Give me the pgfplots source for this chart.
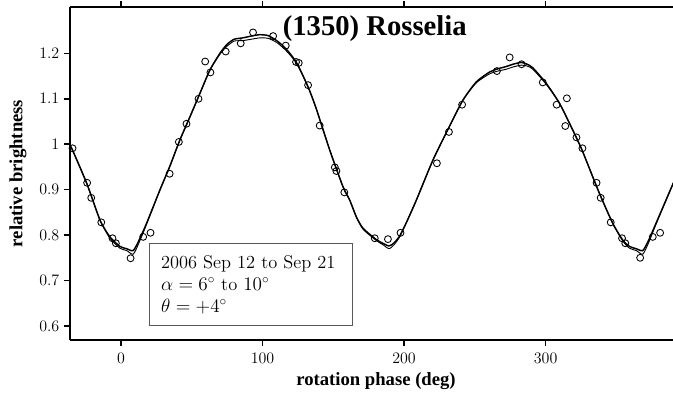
\documentclass[border=0pt]{standalone}
\usepackage{pgfplots}
\pgfplotsset{compat=1.18}
\usepackage{fontspec}
\newfontfamily\tnr{Liberation Serif}
\begin{document}
\begin{tikzpicture}
\begin{axis}[
  name=ax,
  scale only axis,
  width=452.25pt, height=249.75pt,
  xmin=-36, xmax=390, ymin=0.569, ymax=1.302,
  axis x line=box, axis y line=left,
  x axis line style={-}, y axis line style={-},
  axis line style={line width=1.1pt},
  tick align=outside,
  major tick length=4.5pt,
  tick style={line width=1.1pt, black},
  xtick={0,100,200,300},
  ytick={0.6,0.7,0.8,0.9,1,1.1,1.2},
  ticklabel style={font=\fontsize{12}{14}\selectfont},
  xticklabel style={yshift=-2pt},
  xlabel={\tnr\bfseries rotation phase (deg)},
  ylabel={\tnr\bfseries relative brightness},
  xlabel style={font=\fontsize{14}{16}\selectfont, at={(axis description cs:0.5075,-0.1231)}, anchor=center},
  ylabel style={font=\fontsize{14}{16}\selectfont, at={(axis description cs:-0.0862,0.5)}, anchor=center},
  clip=true,
]
% fitted curve (thick)
\addplot[black, line width=1.1pt, smooth, tension=0.4] coordinates {
(-36,0.995) (-34.8,0.991) (-24.2,0.914) (-14.8,0.833) (-7.8,0.796) (-0.7,0.775)
(4,0.770) (8.7,0.766) (13,0.790) (18.1,0.826) (27.5,0.899) (34.6,0.952)
(41.6,1.009) (48.7,1.060) (55.8,1.112) (62.8,1.163) (69.9,1.200) (75,1.220)
(80,1.231) (86,1.234) (92,1.238) (98,1.241) (104,1.239) (110,1.228) (115,1.215)
(119.3,1.200) (124,1.180) (128.7,1.150) (133,1.120) (138.1,1.077) (147.5,0.987)
(156.9,0.906) (161.6,0.877) (166.3,0.840) (171.0,0.815) (180.4,0.790) (185,0.782)
(189.4,0.776) (193,0.783) (196.9,0.798) (202,0.830) (208.7,0.877) (220.4,0.965)
(232.2,1.040) (241.6,1.097) (251.0,1.137) (260.5,1.159) (266.3,1.166) (272.2,1.171)
(277,1.176) (282.8,1.180) (287,1.176) (291.0,1.168) (300.4,1.134) (309.8,1.090)
(319.2,1.031) (325.2,0.991) (328.6,0.965) (338.0,0.892) (347.4,0.826) (354.5,0.789)
(359.3,0.775) (364,0.770) (368.7,0.766) (373,0.790) (378.0,0.826) (389.6,0.910) (390,0.913)
};
% fitted curve (thin)
\addplot[black, line width=0.7pt, smooth, tension=0.4] coordinates {
(-36,0.995) (-34.8,0.991) (-24.2,0.914) (-14.8,0.833) (-7.8,0.793) (-0.7,0.771)
(4,0.766) (8.7,0.758) (13,0.785) (18.1,0.824) (27.5,0.899) (34.6,0.952)
(41.6,1.009) (48.7,1.060) (55.8,1.112) (62.8,1.163) (69.9,1.198) (75,1.216)
(80,1.227) (86,1.228) (92,1.231) (98,1.234) (104,1.233) (110,1.224) (115,1.211)
(119.3,1.197) (124,1.178) (128.7,1.150) (133,1.120) (138.1,1.077) (147.5,0.987)
(156.9,0.906) (161.6,0.877) (166.3,0.840) (171.0,0.813) (180.4,0.788) (185,0.779)
(189.4,0.770) (193,0.779) (196.9,0.796) (202,0.830) (208.7,0.877) (220.4,0.965)
(232.2,1.040) (241.6,1.097) (251.0,1.135) (260.5,1.155) (266.3,1.161) (272.2,1.165)
(277,1.170) (282.8,1.174) (287,1.172) (291.0,1.165) (300.4,1.132) (309.8,1.090)
(319.2,1.031) (325.2,0.991) (328.6,0.965) (338.0,0.892) (347.4,0.826) (354.5,0.787)
(359.3,0.771) (364,0.766) (368.7,0.758) (373,0.785) (378.0,0.824) (389.6,0.910) (390,0.913)
};
% observations
\addplot[only marks, mark=o, mark size=2.6pt, mark options={line width=0.65pt, black}] coordinates {
(-34.2,0.991) (-23.9,0.915) (-21.0,0.882) (-13.9,0.828) (-6.0,0.793) (-3.6,0.782)
(6.8,0.749) (15.7,0.796) (20.9,0.805) (34.4,0.935) (40.9,1.005) (46.3,1.045)
(54.8,1.100) (59.5,1.182) (63.2,1.158) (74.0,1.204) (84.6,1.222) (93.3,1.246)
(107.5,1.238) (116.4,1.217) (123.7,1.181) (125.6,1.179) (132.2,1.130) (140.4,1.041)
(151.1,0.949) (152.2,0.941) (157.8,0.894) (179.3,0.793) (188.6,0.791) (197.5,0.805)
(223.2,0.958) (231.7,1.027) (241.0,1.087) (265.6,1.161) (274.6,1.191) (283.0,1.176)
(298.0,1.136) (307.8,1.087) (315.0,1.101) (313.9,1.040) (321.8,1.015) (326.0,0.991)
(336.0,0.915) (338.9,0.882) (346.0,0.828) (354.0,0.793) (356.3,0.782) (366.8,0.750)
(375.7,0.796) (380.9,0.805)
};
\node[anchor=base, font=\tnr\bfseries\fontsize{21.5}{24}\selectfont] at (axis cs:179.3,1.2403) {(1350) Rosselia};
\draw[draw=black!65, line width=0.75pt, fill=white] (axis cs:20.5,0.7815) rectangle (axis cs:163.9,0.600);
\node[anchor=base west, inner sep=0pt, font=\fontsize{13.8}{16}\selectfont] at (axis cs:28.2,0.7271) {2006 Sep 12 to Sep 21};
\node[anchor=base west, inner sep=0pt, font=\fontsize{13.8}{16}\selectfont] at (axis cs:28.2,0.6787) {$\alpha = 6^\circ$ to $10^\circ$};
\node[anchor=base west, inner sep=0pt, font=\fontsize{13.8}{16}\selectfont] at (axis cs:28.2,0.6302) {$\theta = +4^\circ$};
\end{axis}
\pgfresetboundingbox
\path ([shift={(-52.5pt,-41.25pt)}]ax.south west) rectangle ([shift={(0pt,5.25pt)}]ax.north east);
\end{tikzpicture}
\end{document}
